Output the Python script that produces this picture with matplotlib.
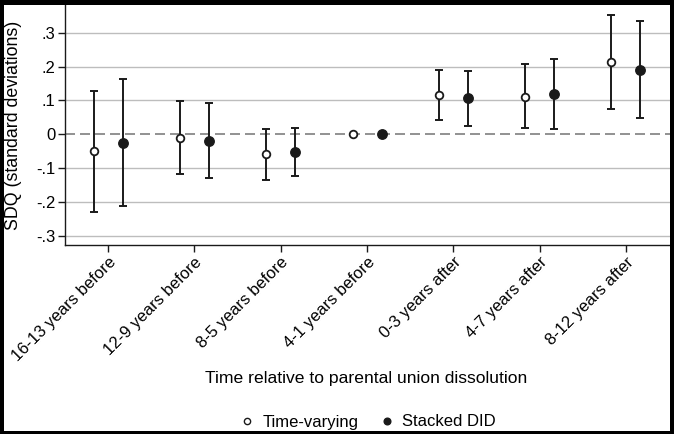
import matplotlib
matplotlib.use("Agg")
import matplotlib.pyplot as plt
import numpy as np
from matplotlib.lines import Line2D
from matplotlib.patches import Rectangle

plt.rcParams['font.family'] = ['Liberation Sans', 'DejaVu Sans']

periods = ["16-13 years before", "12-9 years before", "8-5 years before",
           "4-1 years before", "0-3 years after", "4-7 years after",
           "8-12 years after"]

# time-varying estimates and 95% CI
tv_est = [-0.050, -0.011, -0.060, 0.0, 0.116, 0.111, 0.213]
tv_lo = [-0.230, -0.118, -0.136, 0.0, 0.042, 0.017, 0.074]
tv_hi = [0.129, 0.098, 0.016, 0.0, 0.190, 0.207, 0.352]

# stacked DID estimates and 95% CI
sd_est = [-0.026, -0.019, -0.054, 0.0, 0.107, 0.118, 0.191]
sd_lo = [-0.213, -0.129, -0.124, 0.0, 0.025, 0.014, 0.049]
sd_hi = [0.162, 0.093, 0.019, 0.0, 0.188, 0.223, 0.334]

yticks = [0.3, 0.2, 0.1, 0, -0.1, -0.2, -0.3]
ytick_labels = [".3", ".2", ".1", "0", "-.1", "-.2", "-.3"]

W, H = 674, 434
fig = plt.figure(figsize=(W/100, H/100), dpi=100)
ax = fig.add_axes([65/W, 1-245/H, (670-65)/W, 240/H])

x = np.arange(1, len(periods)+1)
off = 0.168
ink = '#1a1a1a'

for yv in yticks:
    if yv != 0:
        ax.axhline(yv, color='#bdbdbd', lw=1.0, zorder=0)
ax.axhline(0, color='#7f7f7f', lw=1.2, ls=(0, (6, 3)), zorder=1)

tv = np.array(tv_est); sd = np.array(sd_est)
tv_err = [tv - np.array(tv_lo), np.array(tv_hi) - tv]
sd_err = [sd - np.array(sd_lo), np.array(sd_hi) - sd]
mask = np.array(tv_hi) != np.array(tv_lo)

ax.errorbar(x[mask]-off, tv[mask], yerr=[e[mask] for e in tv_err], fmt='none',
            ecolor=ink, elinewidth=1.4, capsize=3, capthick=1.4, zorder=2)
ax.errorbar(x[mask]+off, sd[mask], yerr=[e[mask] for e in sd_err], fmt='none',
            ecolor=ink, elinewidth=1.4, capsize=3, capthick=1.4, zorder=2)
ax.plot(x-off, tv, 'o', ms=5.5, mfc='white', mec=ink, mew=1.3, zorder=3)
ax.plot(x+off, sd, 'o', ms=6.8, mfc=ink, mec=ink, zorder=3)

ax.set_xlim(0.5, 7.51)
ax.set_ylim(-0.328, 0.382)
ax.set_xticks(x)
ax.set_xticklabels(periods, rotation=45, ha='right', rotation_mode='anchor', fontsize=12)
ax.set_yticks(yticks)
ax.set_yticklabels(ytick_labels, fontsize=12)
ax.tick_params(axis='both', color=ink, width=1.0, length=5)
ax.tick_params(axis='x', pad=2)
ax.tick_params(axis='y', pad=2)
for s in ['top', 'right']:
    ax.spines[s].set_visible(False)
for s in ['left', 'bottom']:
    ax.spines[s].set_color(ink)
    ax.spines[s].set_linewidth(1.0)

fig.text(14/W, 1-125/H, "SDQ (standard deviations)", rotation=90,
         ha='center', va='center', fontsize=12.8)
fig.text(366/W, 1-379/H, "Time relative to parental union dissolution",
         ha='center', va='center', fontsize=12.6)

handles = [Line2D([], [], ls='none', marker='o', ms=4.5, mfc='white', mec=ink, mew=1.0),
           Line2D([], [], ls='none', marker='o', ms=4.8, mfc=ink, mec=ink)]
fig.legend(handles, ["Time-varying", "Stacked DID"], loc='center',
           bbox_to_anchor=(367/W, 1-422/H), ncol=2, frameon=False,
           fontsize=12, handletextpad=0.4, columnspacing=1.2, handlelength=1.0)

# black frame around the picture (left, top, right, bottom widths in px)
for (x0, y0, w, h) in [(0, 0, 4, H), (0, H-5, W, 5), (W-4, 0, 4, H), (0, 0, W, 3)]:
    fig.patches.append(Rectangle((x0/W, y0/H), w/W, h/H, transform=fig.transFigure,
                                 facecolor='black', edgecolor='none', zorder=10))

fig.savefig("out.png", dpi=100)
